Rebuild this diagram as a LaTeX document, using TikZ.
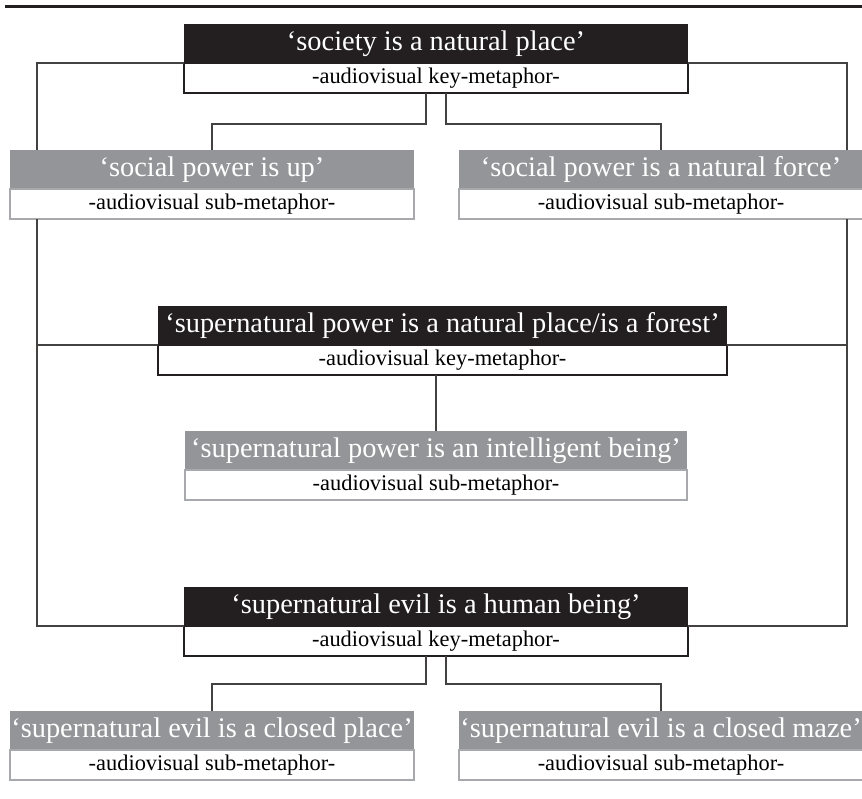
\documentclass[tikz,border=0pt]{standalone}
\usepackage{fontspec}
\setmainfont{Liberation Serif}
\usetikzlibrary{positioning}
\definecolor{ink}{HTML}{231F20}
\definecolor{midgray}{HTML}{939598}
\definecolor{rimgray}{HTML}{A7A9AC}
\tikzset{
  keyhead/.style={fill=ink, text=white, font=\fontsize{14.2}{16}\selectfont,
    minimum width=#1, minimum height=19.5pt, inner sep=0pt, outer sep=0pt},
  subhead/.style={keyhead=#1, fill=midgray},
  keynote/.style={draw=ink, line width=0.7pt, fill=white,
    font=\fontsize{11.2}{13}\selectfont, minimum width=#1, minimum height=15pt,
    inner sep=0pt, outer sep=0pt},
  subnote/.style={keynote=#1, draw=rimgray},
  link/.style={draw=ink!85, line width=0.65pt}
}
\begin{document}
\begin{tikzpicture}[x=0.5pt,y=-0.5pt]
	\useasboundingbox (0,0) rectangle (862,798);
	\draw[ink, line width=1.5pt] (5,6)--(862,6);
	% key metaphors
	\node[keyhead=252pt] (soc) at (436,43.5) {‘society is a natural place’};
	\node[keynote=252pt, below=0pt of soc] (socsub) {-audiovisual key-metaphor-};
	\node[keyhead=284.5pt] (forest) at (442.5,325.5) {‘supernatural power is a natural place/is a forest’};
	\node[keynote=284.5pt, below=0pt of forest] (forestsub) {-audiovisual key-metaphor-};
	\node[keyhead=252pt] (human) at (436,606.5) {‘supernatural evil is a human being’};
	\node[keynote=252pt, below=0pt of human] (humansub) {-audiovisual key-metaphor-};
	% sub metaphors
	\node[subhead=202pt] (up) at (212,169.5) {‘social power is up’};
	\node[subnote=202pt, below=0pt of up] (upsub) {-audiovisual sub-metaphor-};
	\node[subhead=202pt] (force) at (661,169.5) {‘social power is a natural force’};
	\node[subnote=202pt, below=0pt of force] (forcesub) {-audiovisual sub-metaphor-};
	\node[subhead=251pt] (being) at (436,450.5) {‘supernatural power is an intelligent being’};
	\node[subnote=251pt, below=0pt of being] (beingsub) {-audiovisual sub-metaphor-};
	\node[subhead=202pt] (place) at (212,730.5) {‘supernatural evil is a closed place’};
	\node[subnote=202pt, below=0pt of place] (placesub) {-audiovisual sub-metaphor-};
	\node[subhead=202pt] (maze) at (661,730.5) {‘supernatural evil is a closed maze’};
	\node[subnote=202pt, below=0pt of maze] (mazesub) {-audiovisual sub-metaphor-};
	% frame lines
	\coordinate (l) at (37,0);
	\coordinate (r) at (847,0);
	\draw[link] (soc.south west) -| (up.north -| l);
	\draw[link] (soc.south east) -| (force.north -| r);
	\draw[link] (upsub.south -| l) |- (human.south west);
	\draw[link] (forcesub.south -| r) |- (human.south east);
	\draw[link] (l |- forest.south) -- (forest.south west);
	\draw[link] (r |- forest.south) -- (forest.south east);
	% branches
	\draw[link] ([xshift=-5pt]socsub.south) -- ++(0,31) -| (up.north);
	\draw[link] ([xshift=5pt]socsub.south) -- ++(0,31) -| (force.north);
	\draw[link] (being.north |- forestsub.south) -- (being.north);
	\draw[link] ([xshift=-5pt]humansub.south) -- ++(0,28) -| (place.north);
	\draw[link] ([xshift=5pt]humansub.south) -- ++(0,28) -| (maze.north);
\end{tikzpicture}
\end{document}
